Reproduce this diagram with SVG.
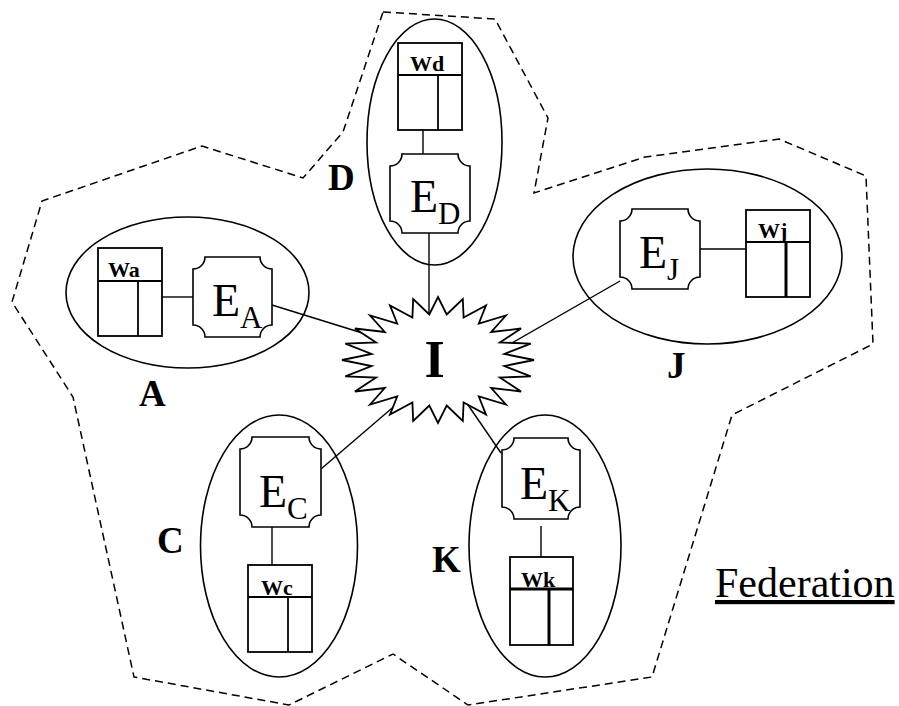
<svg xmlns="http://www.w3.org/2000/svg" width="899" height="706" viewBox="0 0 899 706">
  <style>
    .frame{fill:none;stroke:#000;stroke-width:1.5;stroke-dasharray:8 5}
    .site{fill:none;stroke:#000;stroke-width:1.6}
    .plaque{fill:#fff;stroke:#000;stroke-width:1.6}
    .table{fill:#fff;stroke:#000;stroke-width:1.8}
    .rule{stroke:#000;stroke-width:1.8}
    .heavy{stroke-width:3}
    .link{stroke:#000;stroke-width:1.4;fill:none}
    .hub{fill:#fff;stroke:#000;stroke-width:1.8;stroke-linejoin:miter}
    .lbl{font-family:"Liberation Serif","Times New Roman",serif;font-weight:bold;font-size:37px}
    .ent{font-family:"Liberation Serif","Times New Roman",serif;font-size:46px}
    .sub{font-size:31px}
    .wl{font-family:"Liberation Serif","Times New Roman",serif;font-weight:bold;font-size:22px}
    .fed{font-family:"Liberation Serif","Times New Roman",serif;font-size:42px;text-decoration:underline}
  </style>

  <!-- federation boundary -->
  <g id="federation">
    <polygon class="frame" points="383,12 495,19 548,118 534,193 645,157 779,139 866,176 873,344 732,415 652,677 468,705 393,654 289,705 134,677 73,397 12,302 42,201 202,146 303,178 343,132"/>
    <text class="fed" x="715" y="597">Federation</text>
  </g>

  <!-- connectors -->
  <g id="connectors" class="link">
    <line x1="162" y1="297" x2="193" y2="297"/>
    <line x1="423" y1="130" x2="423" y2="154"/>
    <line x1="700" y1="249" x2="746" y2="249"/>
    <line x1="272" y1="527" x2="272" y2="565"/>
    <line x1="541" y1="526" x2="541" y2="557"/>
    <line x1="272" y1="305" x2="372" y2="336"/>
    <line x1="429" y1="233" x2="429" y2="318"/>
    <line x1="620" y1="281" x2="505" y2="347"/>
    <line x1="321" y1="469" x2="398" y2="403"/>
    <line x1="501" y1="453" x2="466" y2="402"/>
  </g>

  <!-- site A -->
  <g id="site-A">
    <ellipse class="site" cx="187.5" cy="292.5" rx="121.5" ry="75.5"/>
    <text class="lbl" x="139" y="406">A</text>
    <g id="Wa">
      <rect class="table" x="98" y="248" width="64" height="88"/>
      <line class="rule" x1="98" y1="281" x2="162" y2="281"/>
      <line class="rule" x1="138" y1="281" x2="138" y2="336"/>
      <text class="wl" x="108" y="277">Wa</text>
    </g>
    <g id="EA">
      <path class="plaque" d="M205,257 H260 A12,12 0 0 0 272,269 V325 A12,12 0 0 0 260,337 H205 A12,12 0 0 0 193,325 V269 A12,12 0 0 0 205,257 Z"/>
      <text class="ent" x="212" y="316">E<tspan class="sub" dy="12">A</tspan></text>
    </g>
  </g>

  <!-- site D -->
  <g id="site-D">
    <ellipse class="site" cx="434.5" cy="142" rx="67.5" ry="123"/>
    <text class="lbl" x="328" y="190">D</text>
    <g id="Wd">
      <rect class="table" x="398" y="43" width="64" height="87"/>
      <line class="rule" x1="398" y1="75" x2="462" y2="75"/>
      <line class="rule" x1="438" y1="75" x2="438" y2="130"/>
      <text class="wl" x="410" y="71">Wd</text>
    </g>
    <g id="ED">
      <path class="plaque" d="M402,154 H458 A12,12 0 0 0 470,166 V221 A12,12 0 0 0 458,233 H402 A12,12 0 0 0 390,221 V166 A12,12 0 0 0 402,154 Z"/>
      <text class="ent" x="410" y="212">E<tspan class="sub" dy="12">D</tspan></text>
    </g>
  </g>

  <!-- site J -->
  <g id="site-J">
    <ellipse class="site" cx="707.5" cy="256.5" rx="134.5" ry="87.5"/>
    <text class="lbl" x="667" y="378">J</text>
    <g id="EJ">
      <path class="plaque" d="M632,209 H688 A12,12 0 0 0 700,221 V277 A12,12 0 0 0 688,289 H632 A12,12 0 0 0 620,277 V221 A12,12 0 0 0 632,209 Z"/>
      <text class="ent" x="639" y="268">E<tspan class="sub" dy="12">J</tspan></text>
    </g>
    <g id="Wj">
      <rect class="table" x="746" y="210" width="64" height="87"/>
      <line class="rule" x1="746" y1="242" x2="810" y2="242"/>
      <line class="rule heavy" x1="786" y1="242" x2="786" y2="297"/>
      <text class="wl" x="758" y="238">Wj</text>
    </g>
  </g>

  <!-- site C -->
  <g id="site-C">
    <ellipse class="site" cx="279" cy="546" rx="78.5" ry="131"/>
    <text class="lbl" x="157" y="553">C</text>
    <g id="EC">
      <path class="plaque" d="M252,437 H309 A12,12 0 0 0 321,449 V515 A12,12 0 0 0 309,527 H252 A12,12 0 0 0 240,515 V449 A12,12 0 0 0 252,437 Z"/>
      <text class="ent" x="259" y="507">E<tspan class="sub" dy="12">C</tspan></text>
    </g>
    <g id="Wc">
      <rect class="table" x="248" y="565" width="64" height="87"/>
      <line class="rule" x1="248" y1="597" x2="312" y2="597"/>
      <line class="rule" x1="288" y1="597" x2="288" y2="652"/>
      <text class="wl" x="261" y="595">Wc</text>
    </g>
  </g>

  <!-- site K -->
  <g id="site-K">
    <ellipse class="site" cx="545" cy="546" rx="76" ry="131"/>
    <text class="lbl" x="432" y="572">K</text>
    <g id="EK">
      <path class="plaque" d="M514,438 H568 A12,12 0 0 0 580,450 V507 A12,12 0 0 0 568,519 H514 A12,12 0 0 0 502,507 V450 A12,12 0 0 0 514,438 Z"/>
      <text class="ent" x="520" y="499">E<tspan class="sub" dy="12">K</tspan></text>
    </g>
    <g id="Wk">
      <rect class="table" x="510" y="557" width="63" height="88"/>
      <line class="rule heavy" x1="510" y1="589" x2="573" y2="589"/>
      <line class="rule heavy" x1="549" y1="589" x2="549" y2="645"/>
      <text class="wl" x="521" y="587">Wk</text>
    </g>
  </g>

  <!-- central interconnect -->
  <g id="hub-I">
    <path class="hub" d="M438,297 L446.7,314.4 L462.8,299.1 L463.6,317.5 L486,305.4 L478.8,323.5 L505.9,315.5 L491.2,332 L521.1,328.5 L499.9,342.4 L530.7,343.7 L504.4,354 L534,360 L504.4,366 L530.7,376.3 L499.9,377.6 L521.1,391.5 L491.2,388 L505.9,404.5 L478.8,396.5 L486,414.6 L463.6,402.5 L462.8,420.9 L446.7,405.6 L438,423 L429.3,405.6 L413.2,420.9 L412.4,402.5 L390,414.6 L397.2,396.5 L370.1,404.5 L384.8,388 L354.9,391.5 L376.1,377.6 L345.3,376.3 L371.6,366 L342,360 L371.6,354 L345.3,343.7 L376.1,342.4 L354.9,328.5 L384.8,332 L370.1,315.5 L397.2,323.5 L390,305.4 L412.4,317.5 L413.2,299.1 L429.3,314.4 Z"/>
    <text class="lbl" x="434.5" y="377" text-anchor="middle" style="font-size:52px">I</text>
  </g>
</svg>
